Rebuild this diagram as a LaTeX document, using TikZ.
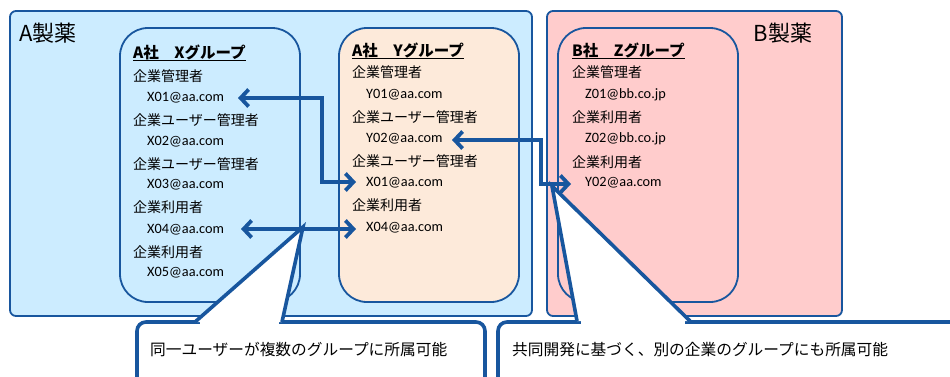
\documentclass[tikz,border=0pt]{standalone}
\usepackage{fontspec}
\setmainfont{Carlito}
\newfontfamily\jp{Noto Sans CJK JP}
\usetikzlibrary{arrows.meta}
\definecolor{bord}{RGB}{24,86,158}
\definecolor{lblue}{RGB}{204,236,255}
\definecolor{peach}{RGB}{253,234,218}
\definecolor{lpink}{RGB}{255,204,204}
\begin{document}
\begin{tikzpicture}[x=1pt,y=-1pt,line join=miter,
 company/.style={draw=bord,line width=1.8pt,rounded corners=6pt},
 grp/.style={draw=bord,line width=1.8pt,rounded corners=28pt},
 role/.style={anchor=west,inner sep=0pt,font=\jp\fontsize{14}{16}\selectfont},
 mail/.style={anchor=west,inner sep=0pt,font=\fontsize{14.3}{16}\selectfont},
 gtitle/.style={anchor=west,inner sep=0pt,font=\jp\bfseries\fontsize{15.5}{18}\selectfont},
 ctitle/.style={inner sep=0pt,font=\jp\fontsize{22}{24}\selectfont},
 link/.style={draw=bord,line width=3.8pt,{Straight Barb[length=8pt,width=17pt]}-{Straight Barb[length=8pt,width=17pt]}},
 callout/.style={draw=bord,line width=3.6pt,fill=white,rounded corners=9pt},
 wedge/.style={draw=bord,line width=3.6pt},
 ctext/.style={anchor=west,inner sep=0pt,font=\jp\fontsize{15.7}{18}\selectfont}]
\useasboundingbox (0,0) rectangle (950,376);
\clip (0,0) rectangle (950,376);
% companies
\draw[company,fill=lblue] (10,11) rectangle (532,316);
\draw[company,fill=lpink] (547,11) rectangle (842,316);
\node[ctitle] (ca) at (48,33) {A製薬};
\node[ctitle] (cb) at (783,33) {B製薬};
% groups
\draw[grp,fill=lblue] (120,28) rectangle (300,302);
\draw[grp,fill=peach] (339,28) rectangle (519,302);
\draw[grp,fill=lpink] (558,28) rectangle (738,302);
% X group
\node[gtitle] (tx) at (133,52) {A社　Xグループ};
\draw[line width=1.2pt] ([yshift=-1pt]tx.south west) -- ([yshift=-1pt]tx.south east);
\node[role] (xr1) at (133,76) {企業管理者};
\node[mail] (xm1) at (147,98) {X01@aa.com};
\node[role] (xr2) at (133,120) {企業ユーザー管理者};
\node[mail] (xm2) at (147,142) {X02@aa.com};
\node[role] (xr3) at (133,164) {企業ユーザー管理者};
\node[mail] (xm3) at (147,185) {X03@aa.com};
\node[role] (xr4) at (133,207) {企業利用者};
\node[mail] (xm4) at (147,230) {X04@aa.com};
\node[role] (xr5) at (133,252) {企業利用者};
\node[mail] (xm5) at (147,273) {X05@aa.com};
% Y group
\node[gtitle] (ty) at (352,50) {A社　Yグループ};
\draw[line width=1.2pt] ([yshift=-1pt]ty.south west) -- ([yshift=-1pt]ty.south east);
\node[role] (yr1) at (352,72) {企業管理者};
\node[mail] (ym1) at (366,95) {Y01@aa.com};
\node[role] (yr2) at (352,117) {企業ユーザー管理者};
\node[mail] (ym2) at (366,139) {Y02@aa.com};
\node[role] (yr3) at (352,161) {企業ユーザー管理者};
\node[mail] (ym3) at (366,183) {X01@aa.com};
\node[role] (yr4) at (352,205) {企業利用者};
\node[mail] (ym4) at (366,228) {X04@aa.com};
% Z group
\node[gtitle] (tz) at (572,50) {B社　Zグループ};
\draw[line width=1.2pt] ([yshift=-1pt]tz.south west) -- ([yshift=-1pt]tz.south east);
\node[role] (zr1) at (572,72) {企業管理者};
\node[mail] (zm1) at (585,95) {Z01@bb.co.jp};
\node[role] (zr2) at (572,117) {企業利用者};
\node[mail] (zm2) at (585,139) {Z02@bb.co.jp};
\node[role] (zr3) at (572,162) {企業利用者};
\node[mail] (zm3) at (585,183) {Y02@aa.com};
% link points
\coordinate (a1) at (238,98);
\coordinate (a1b) at (322,98);
\coordinate (a1c) at (322,182);
\coordinate (a1e) at (356,182);
\coordinate (a2) at (241,229);
\coordinate (a2e) at (356,229);
\coordinate (a3) at (452,140);
\coordinate (a3b) at (541,140);
\coordinate (a3c) at (541,184);
\coordinate (a3e) at (571,184);
\draw[link] (a1) -- (a1b) -- (a1c) -- (a1e);
\draw[link] (a2) -- (a2e);
\draw[link] (a3) -- (a3b) -- (a3c) -- (a3e);
% callout 1
\coordinate (p1) at (303,227);
\coordinate (p1l) at (195,322);
\coordinate (p1r) at (282,322);
\draw[callout] (137,322) rectangle (485,420);
\fill[white] (p1) -- (p1l) -- (p1r) -- cycle;
\fill[white] (200,319) rectangle (279,326);
\draw[wedge] (p1l) -- (p1) -- (p1r);
\node[ctext] (t1) at (150,350) {同一ユーザーが複数のグループに所属可能};
% callout 2
\coordinate (p2) at (552,186);
\coordinate (p2l) at (577,321);
\coordinate (p2r) at (690,321);
\draw[callout] (498,322) rectangle (1000,420);
\fill[white] (p2) -- (p2l) -- (p2r) -- cycle;
\fill[white] (581,318) rectangle (685,326);
\draw[wedge] (p2l) -- (p2) -- (p2r);
\node[ctext] (t2) at (512,350) {共同開発に基づく、別の企業のグループにも所属可能};
\end{tikzpicture}
\end{document}
